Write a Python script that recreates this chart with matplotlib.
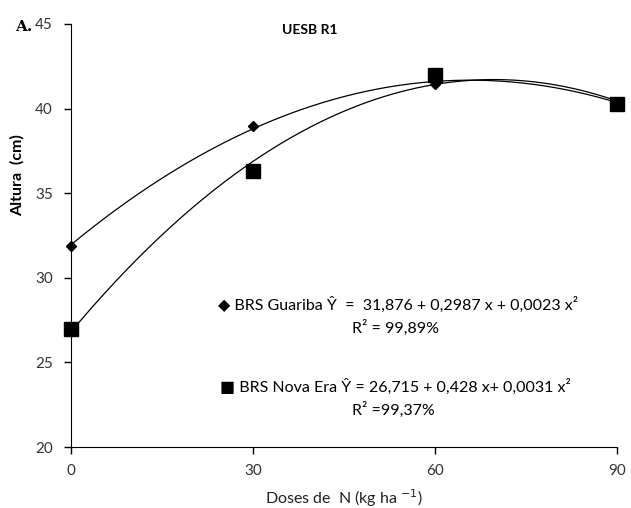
import numpy as np
import matplotlib
matplotlib.use("Agg")
import matplotlib.pyplot as plt

plt.rcParams['font.family'] = ['Lato', 'DejaVu Sans']

doses = [0, 30, 60, 90]
guariba = [31.9, 38.95, 41.45, 40.4]
nova_era = [27.0, 36.3, 42.0, 40.25]
xticks = [0, 30, 60, 90]
yticks = [20, 25, 30, 35, 40, 45]

fig = plt.figure(figsize=(6.31, 5.08), dpi=100)
ax = fig.add_axes([0.1125, 0.12, 0.8655, 0.833])

xs = np.linspace(0, 90, 200)
for vals, mk, ms in [(guariba, 'D', 5.5), (nova_era, 's', 10.5)]:
    coef = np.polyfit(doses, vals, 2)
    ax.plot(xs, np.polyval(coef, xs), color='black', lw=0.9)
    ax.plot(doses, vals, linestyle='none', marker=mk, markersize=ms,
            color='black', clip_on=False, zorder=3)

ax.set_xlim(0, 90)
ax.set_ylim(20, 45)
ax.set_xticks(xticks)
ax.set_yticks(yticks)
ax.spines['top'].set_visible(False)
ax.spines['right'].set_visible(False)
ax.tick_params(direction='out', length=5, width=1, labelsize=11, labelcolor='#333333', pad=8)
ax.tick_params(axis='x', pad=7)

ax.set_ylabel('Altura  (cm)', fontsize=11.5, fontweight='bold')
ax.yaxis.set_label_coords(-0.085, 0.643)
ax.set_xlabel('Doses de  N (kg ha $^{-1}$)', fontsize=11.5, color='#222222')
ax.xaxis.set_label_coords(0.5, -0.095)

ax.text(0.438, 0.985, 'UESB R1', transform=ax.transAxes, fontsize=10,
        fontweight='bold', ha='center', va='center')
fig.text(0.024, 0.947, 'A.', fontsize=11, fontweight='bold', family='DejaVu Serif',
         ha='left', va='center')

fs = 11.5
ax.text(0.27, 0.336, '◆ BRS Guariba Ŷ  =  31,876 + 0,2987 x + 0,0023 x²',
        transform=ax.transAxes, fontsize=fs, ha='left', va='center')
ax.text(0.515, 0.281, 'R² = 99,89%', transform=ax.transAxes, fontsize=fs,
        ha='left', va='center')
ax.text(0.273, 0.142, '■ BRS Nova Era Ŷ = 26,715 + 0,428 x+ 0,0031 x²',
        transform=ax.transAxes, fontsize=fs, ha='left', va='center')
ax.text(0.515, 0.087, 'R² =99,37%', transform=ax.transAxes, fontsize=fs,
        ha='left', va='center')

fig.savefig('out.png', dpi=100)
